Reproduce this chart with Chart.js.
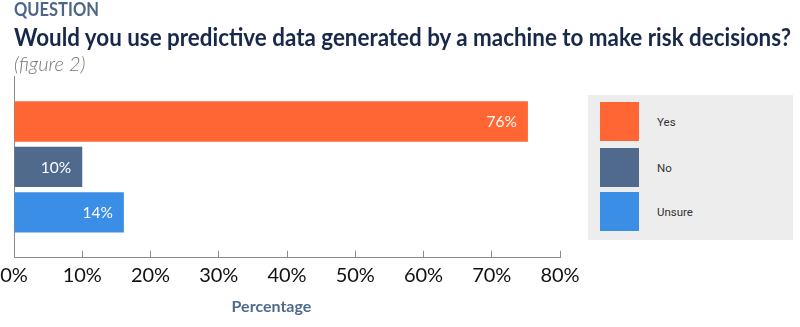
<!DOCTYPE html>
<html>
<head>
<meta charset="utf-8">
<script src="https://cdn.jsdelivr.net/npm/chart.js@4"></script>
<style>
  html, body { margin: 0; padding: 0; background: #fff; }
  #wrap { position: relative; width: 800px; height: 327px; overflow: hidden; font-family: Lato, sans-serif; }
  #chart { position: absolute; left: 0; top: 0; }
  .kicker { position: absolute; left: 14px; top: -2px; font-weight: bold; font-size: 16.5px; color: #4d6586; transform: scaleY(1.1); transform-origin: left top; }
  .title { position: absolute; left: 14px; top: 21px; font-weight: bold; font-size: 22.4px; color: #17284a; white-space: nowrap; transform: scaleY(1.12); transform-origin: left top; }
  .fig { position: absolute; left: 14px; top: 51px; font-style: italic; font-weight: 300; font-size: 20px; color: #777; }
  #legend { position: absolute; left: 588px; top: 95px; width: 205px; height: 145px; background: #ededed; font-family: Roboto, sans-serif; font-size: 11.5px; color: #333; }
  #legend .item { position: absolute; left: 12px; height: 40px; }
  #legend .sw { position: absolute; left: 0; top: 0; width: 39px; height: 39px; }
  #legend .lbl { position: absolute; left: 57px; top: 0; line-height: 40px; white-space: nowrap; }
</style>
</head>
<body>
<div id="wrap">
  <canvas id="chart" width="800" height="327"></canvas>
  <div class="kicker">QUESTION</div>
  <div class="title">Would you use predictive data generated by a machine to make risk decisions?</div>
  <div class="fig">(figure 2)</div>
  <div id="legend"></div>
</div>
<script>
// answers and their share (bar lengths as drawn), plus the printed labels
const answers = ['Yes', 'No', 'Unsure'];
const shares = [75.3, 10, 16.1];
const shareLabels = ['76%', '10%', '14%'];
const colors = ['#ff6633', '#4f6a8c', '#3a8ee6'];
const xTicks = [0, 10, 20, 30, 40, 50, 60, 70, 80];

// legend box on the right
const legend = document.getElementById('legend');
const legendTops = [7, 53, 97];
answers.forEach((a, i) => {
  const item = document.createElement('div');
  item.className = 'item';
  item.style.top = legendTops[i] + 'px';
  item.innerHTML = '<div class="sw" style="background:' + colors[i] + '"></div><div class="lbl">' + a + '</div>';
  legend.appendChild(item);
});

// white value labels inside the bar ends
const barLabels = {
  id: 'barLabels',
  afterDatasetsDraw(chart) {
    const ctx = chart.ctx;
    ctx.save();
    ctx.font = '15.5px Lato';
    ctx.fillStyle = '#fff';
    ctx.textAlign = 'right';
    ctx.textBaseline = 'middle';
    chart.data.datasets.forEach((ds, i) => {
      const bar = chart.getDatasetMeta(i).data[0];
      ctx.fillText(shareLabels[i], bar.x - 11, bar.y + 1);
    });
    ctx.restore();
  }
};

new Chart(document.getElementById('chart').getContext('2d'), {
  type: 'bar',
  data: {
    labels: [''],
    datasets: answers.map((a, i) => ({
      label: a,
      data: [shares[i]],
      backgroundColor: colors[i],
      categoryPercentage: 0.75,
      barPercentage: 0.889
    }))
  },
  options: {
    indexAxis: 'y',
    responsive: false,
    animation: false,
    layout: { padding: { top: 76, left: 0, right: 240, bottom: 11 } },
    plugins: {
      legend: { display: false },
      tooltip: { enabled: false }
    },
    scales: {
      x: {
        min: 0,
        max: 80,
        afterBuildTicks: (scale) => { scale.ticks = xTicks.map(v => ({ value: v })); },
        afterFit: (scale) => { scale.paddingLeft = 14; },
        ticks: {
          callback: (v) => v + '%',
          color: '#111',
          font: { family: 'Lato', size: 20 },
          padding: 13
        },
        grid: { drawOnChartArea: false, drawTicks: true, tickLength: -7, color: '#8a8a8a' },
        border: { color: '#8a8a8a' },
        title: {
          display: true,
          // trailing spaces nudge the title left of the axis centre, as in the original
          text: 'Percentage' + '\u00a0'.repeat(8),
          color: '#4f6a8c',
          font: { family: 'Lato', size: 16, weight: 'bold' },
          padding: { top: -4, bottom: 0 }
        }
      },
      y: {
        afterFit: (scale) => { scale.width = 14; },
        ticks: { display: false },
        grid: { display: false, drawTicks: false },
        border: { color: '#8a8a8a' }
      }
    }
  },
  plugins: [barLabels]
});
</script>
</body>
</html>
